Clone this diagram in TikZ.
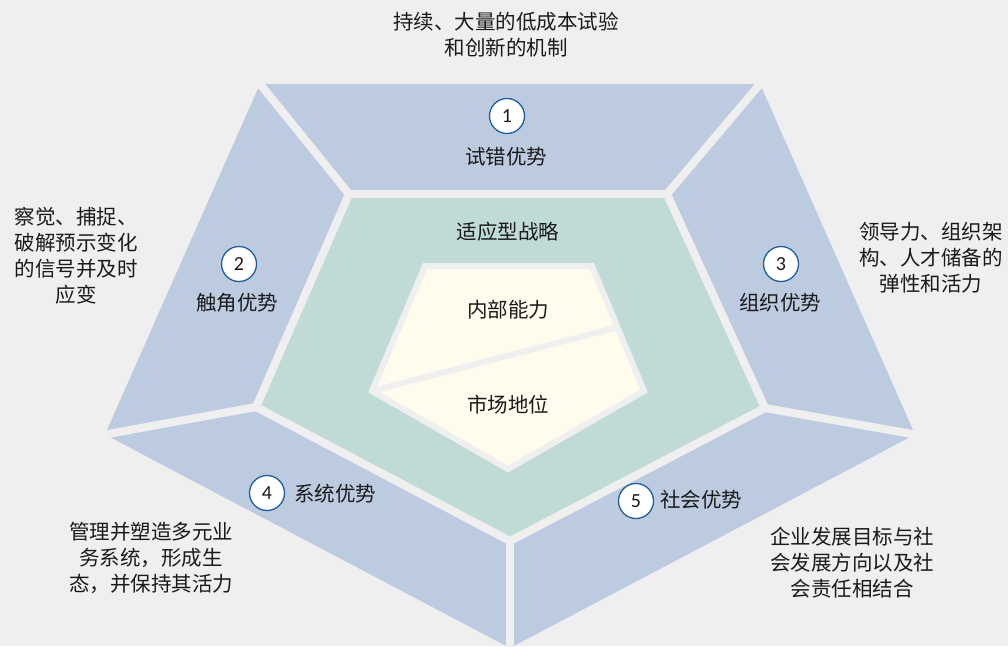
\documentclass[tikz,border=0pt]{standalone}
\usepackage{fontspec}
\setmainfont{Noto Sans CJK SC}
\newfontfamily\numfont{Carlito}
\usetikzlibrary{calc}
\definecolor{bg}{HTML}{EFEFEF}
\definecolor{segblue}{HTML}{BDCBE1}
\definecolor{coregreen}{HTML}{C0DBD5}
\definecolor{coreyellow}{HTML}{FFFCEE}
\definecolor{ringblue}{HTML}{1F5F99}
\definecolor{ink}{HTML}{1A1A1A}
\begin{document}
\begin{tikzpicture}[x=1pt,y=-1pt,
  gap/.style={draw=bg,line width=8pt,line join=miter},
  numcirc/.style={circle,draw=ringblue,line width=1.3pt,fill=white,minimum size=35pt,inner sep=0pt,font=\numfont\fontsize{20}{20}\selectfont,text=ink},
  lbl/.style={font=\fontsize{20.5}{24}\selectfont,text=ink,inner sep=0pt},
  note/.style={font=\fontsize{20.5}{26}\selectfont,text=ink,align=center,inner sep=0pt}]
\useasboundingbox (0,0) rectangle (1008,646);
\fill[bg] (0,0) rectangle (1008,646);
\clip (0,0) rectangle (1008,646);
% outer vertices
\coordinate (A) at (260,84);
\coordinate (B) at (760,84);
\coordinate (C) at (915,434.5);
\coordinate (D) at (510,648);
\coordinate (E) at (105,434.5);
% inner vertices
\coordinate (P1) at (349,194);
\coordinate (P2) at (667,194);
\coordinate (P3) at (765,408);
\coordinate (P4) at (510,541);
\coordinate (P5) at (256,407);
\fill[segblue] (A) -- (B) -- (C) -- (D) -- (E) -- cycle;
\fill[coregreen] (P1) -- (P2) -- (P3) -- (P4) -- (P5) -- cycle;
\draw[gap] (P1) -- (P2) -- (P3) -- (P4) -- (P5) -- cycle;
\draw[gap] (P1) -- ($(P1)!1.3!(A)$);
\draw[gap] (P2) -- ($(P2)!1.3!(B)$);
\draw[gap] (P3) -- ($(P3)!1.3!(C)$);
\draw[gap] (P4) -- ($(P4)!1.3!(D)$);
\draw[gap] (P5) -- ($(P5)!1.3!(E)$);
% core
\coordinate (Y1) at (425,266);
\coordinate (Y2) at (592,266);
\coordinate (Y3) at (644,391);
\coordinate (Y4) at (508,469);
\coordinate (Y5) at (372,391);
\filldraw[fill=coreyellow,draw=bg,line width=6pt,line join=miter] (Y1) -- (Y2) -- (Y3) -- (Y4) -- (Y5) -- cycle;
\draw[draw=bg,line width=6pt] (Y5) -- ($(Y2)!0.49!(Y3)$);
% labels
\node[lbl] (core1) at (508,310) {内部能力};
\node[lbl] (core2) at (508,405) {市场地位};
\node[lbl] (strat) at (508,232) {适应型战略};
\node[numcirc] (n1) at (507,116) {1};
\node[lbl] (l1) at (506,157) {试错优势};
\node[numcirc] (n2) at (239,264) {2};
\node[lbl] (l2) at (237,303) {触角优势};
\node[numcirc] (n3) at (781,264) {3};
\node[lbl] (l3) at (780,303) {组织优势};
\node[numcirc] (n4) at (267,493) {4};
\node[lbl,anchor=west] (l4) at (294,494) {系统优势};
\node[numcirc] (n5) at (636,501) {5};
\node[lbl,anchor=west] (l5) at (660,500) {社会优势};
% notes
\node[note] (t1) at (506,35) {持续、大量的低成本试验\\和创新的机制};
\node[note] (t2) at (76,256) {察觉、捕捉、\\破解预示变化\\的信号并及时\\应变};
\node[note] (t3) at (931,258) {领导力、组织架\\构、人才储备的\\弹性和活力};
\node[note] (t4) at (151,558) {管理并塑造多元业\\务系统，形成生\\态，并保持其活力};
\node[note] (t5) at (852,563) {企业发展目标与社\\会发展方向以及社\\会责任相结合};
\end{tikzpicture}
\end{document}
